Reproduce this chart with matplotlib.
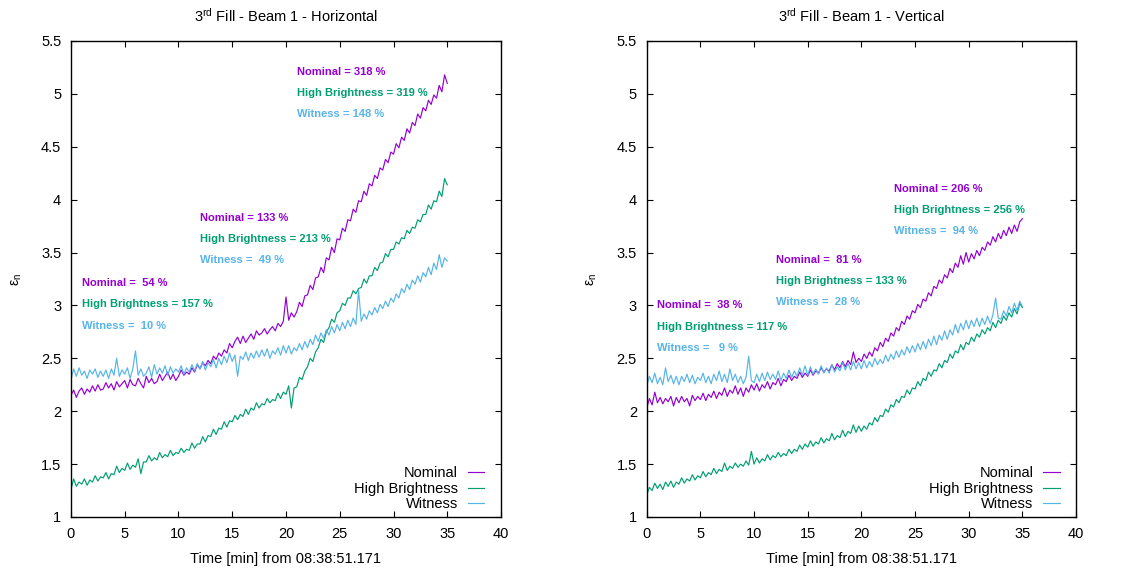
import numpy as np
import matplotlib
matplotlib.use("Agg")
import matplotlib.pyplot as plt

plt.rcParams["font.family"] = ["Liberation Sans", "DejaVu Sans"]
plt.rcParams["mathtext.fontset"] = "custom"
plt.rcParams["mathtext.rm"] = "Liberation Sans"
plt.rcParams["mathtext.it"] = "Liberation Sans:italic"

# sample times [min], one reading every 15 s
T_MIN = np.arange(0, 35.001, 0.25)

# --- Horizontal plane
H_NOM = [
    2.15, 2.20, 2.13, 2.19, 2.22, 2.16, 2.21, 2.18, 2.24, 2.19, 2.25, 2.20,
    2.21, 2.27, 2.22, 2.26, 2.20, 2.28, 2.23, 2.26, 2.29, 2.22, 2.30, 2.25,
    2.24, 2.31, 2.26, 2.22, 2.33, 2.27, 2.31, 2.26, 2.28, 2.35, 2.29, 2.33,
    2.37, 2.30, 2.35, 2.29, 2.33, 2.39, 2.34, 2.37, 2.35, 2.41, 2.37, 2.44,
    2.40, 2.46, 2.43, 2.48, 2.45, 2.52, 2.49, 2.55, 2.52, 2.58, 2.55, 2.64,
    2.60, 2.66, 2.70, 2.64, 2.71, 2.65, 2.69, 2.73, 2.68, 2.76, 2.72, 2.74,
    2.78, 2.73, 2.77, 2.80, 2.76, 2.83, 2.80, 2.85, 3.08, 2.86, 2.93, 2.89,
    2.94, 3.03, 2.99, 3.09, 3.10, 3.19, 3.15, 3.26, 3.27, 3.36, 3.31, 3.45,
    3.43, 3.55, 3.50, 3.63, 3.62, 3.73, 3.70, 3.81, 3.80, 3.91, 3.88, 3.99,
    3.98, 4.08, 4.04, 4.15, 4.13, 4.23, 4.20, 4.30, 4.28, 4.38, 4.35, 4.45,
    4.43, 4.53, 4.49, 4.59, 4.56, 4.67, 4.63, 4.73, 4.70, 4.81, 4.77, 4.87,
    4.84, 4.94, 4.90, 4.99, 4.96, 5.08, 5.02, 5.18, 5.10,
]
H_HB = [
    1.26, 1.36, 1.29, 1.33, 1.31, 1.36, 1.30, 1.35, 1.33, 1.39, 1.34, 1.38,
    1.37, 1.42, 1.36, 1.41, 1.40, 1.48, 1.42, 1.46, 1.44, 1.51, 1.45, 1.49,
    1.47, 1.55, 1.41, 1.52, 1.52, 1.58, 1.53, 1.56, 1.54, 1.61, 1.56, 1.59,
    1.57, 1.63, 1.58, 1.61, 1.60, 1.65, 1.61, 1.64, 1.63, 1.70, 1.65, 1.69,
    1.69, 1.76, 1.71, 1.77, 1.76, 1.83, 1.78, 1.84, 1.83, 1.90, 1.85, 1.91,
    1.90, 1.96, 1.92, 1.97, 1.95, 2.02, 1.97, 2.03, 2.01, 2.08, 2.03, 2.07,
    2.06, 2.12, 2.08, 2.11, 2.10, 2.17, 2.12, 2.18, 2.16, 2.24, 2.03, 2.22,
    2.23, 2.32, 2.30, 2.38, 2.42, 2.50, 2.47, 2.56, 2.60, 2.68, 2.65, 2.75,
    2.79, 2.87, 2.84, 2.93, 2.95, 3.02, 3.00, 3.07, 3.07, 3.14, 3.11, 3.16,
    3.17, 3.25, 3.21, 3.28, 3.28, 3.36, 3.33, 3.40, 3.41, 3.49, 3.46, 3.53,
    3.53, 3.60, 3.58, 3.64, 3.63, 3.71, 3.68, 3.74, 3.73, 3.81, 3.79, 3.86,
    3.86, 3.95, 3.91, 3.99, 3.98, 4.08, 4.03, 4.20, 4.14,
]
H_WIT = [
    2.30, 2.40, 2.33, 2.41, 2.34, 2.38, 2.31, 2.39, 2.35, 2.40, 2.32, 2.38,
    2.33, 2.39, 2.31, 2.40, 2.34, 2.50, 2.33, 2.39, 2.35, 2.41, 2.31, 2.40,
    2.57, 2.34, 2.40, 2.33, 2.36, 2.42, 2.32, 2.44, 2.35, 2.41, 2.36, 2.43,
    2.34, 2.42, 2.36, 2.40, 2.37, 2.43, 2.35, 2.41, 2.37, 2.44, 2.38, 2.45,
    2.40, 2.47, 2.39, 2.46, 2.42, 2.49, 2.41, 2.50, 2.44, 2.52, 2.46, 2.55,
    2.47, 2.53, 2.33, 2.52, 2.49, 2.56, 2.48, 2.55, 2.50, 2.57, 2.51, 2.58,
    2.52, 2.59, 2.50, 2.57, 2.54, 2.60, 2.53, 2.62, 2.55, 2.62, 2.54, 2.60,
    2.57, 2.64, 2.58, 2.66, 2.60, 2.68, 2.63, 2.72, 2.66, 2.74, 2.69, 2.77,
    2.72, 2.80, 2.74, 2.82, 2.76, 2.84, 2.78, 2.86, 2.80, 2.88, 2.82, 3.14,
    2.85, 2.92, 2.87, 2.95, 2.91, 2.98, 2.93, 3.01, 2.97, 3.04, 2.99, 3.07,
    3.03, 3.11, 3.07, 3.16, 3.12, 3.20, 3.15, 3.24, 3.20, 3.28, 3.22, 3.31,
    3.27, 3.36, 3.29, 3.40, 3.34, 3.48, 3.36, 3.45, 3.42,
]

# --- Vertical plane
V_NOM = [
    2.03, 2.12, 2.06, 2.18, 2.08, 2.13, 2.07, 2.12, 2.09, 2.14, 2.05, 2.13,
    2.08, 2.14, 2.09, 2.12, 2.05, 2.15, 2.10, 2.14, 2.11, 2.17, 2.10, 2.16,
    2.13, 2.19, 2.12, 2.18, 2.15, 2.22, 2.14, 2.20, 2.17, 2.24, 2.16, 2.22,
    2.14, 2.22, 2.18, 2.25, 2.20, 2.26, 2.19, 2.25, 2.22, 2.28, 2.21, 2.27,
    2.25, 2.31, 2.24, 2.30, 2.28, 2.34, 2.29, 2.33, 2.31, 2.37, 2.32, 2.36,
    2.33, 2.39, 2.34, 2.38, 2.36, 2.41, 2.37, 2.40, 2.38, 2.44, 2.39, 2.45,
    2.41, 2.47, 2.42, 2.48, 2.44, 2.56, 2.46, 2.50, 2.47, 2.54, 2.50, 2.56,
    2.52, 2.60, 2.57, 2.65, 2.61, 2.69, 2.66, 2.74, 2.71, 2.79, 2.76, 2.85,
    2.82, 2.90, 2.87, 2.95, 2.93, 3.01, 2.98, 3.06, 3.04, 3.12, 3.09, 3.18,
    3.16, 3.24, 3.21, 3.29, 3.26, 3.35, 3.31, 3.40, 3.36, 3.47, 3.39, 3.50,
    3.41, 3.49, 3.44, 3.52, 3.47, 3.55, 3.52, 3.60, 3.57, 3.65, 3.60, 3.68,
    3.63, 3.71, 3.66, 3.74, 3.68, 3.76, 3.70, 3.79, 3.82,
]
V_HB = [
    1.21, 1.28, 1.25, 1.32, 1.27, 1.31, 1.26, 1.33, 1.29, 1.34, 1.28, 1.33,
    1.31, 1.37, 1.32, 1.36, 1.34, 1.40, 1.35, 1.39, 1.37, 1.43, 1.38, 1.42,
    1.40, 1.46, 1.41, 1.45, 1.43, 1.51, 1.44, 1.48, 1.46, 1.51, 1.47, 1.50,
    1.48, 1.53, 1.49, 1.62, 1.50, 1.56, 1.51, 1.55, 1.53, 1.59, 1.54, 1.58,
    1.56, 1.61, 1.57, 1.60, 1.58, 1.64, 1.60, 1.64, 1.62, 1.68, 1.64, 1.69,
    1.66, 1.72, 1.67, 1.71, 1.69, 1.75, 1.70, 1.74, 1.72, 1.79, 1.73, 1.77,
    1.75, 1.82, 1.76, 1.81, 1.79, 1.87, 1.80, 1.86, 1.81, 1.86, 1.83, 1.89,
    1.87, 1.94, 1.90, 1.96, 1.95, 2.02, 1.99, 2.06, 2.04, 2.11, 2.08, 2.14,
    2.13, 2.20, 2.16, 2.22, 2.21, 2.28, 2.24, 2.31, 2.29, 2.37, 2.33, 2.39,
    2.38, 2.45, 2.41, 2.48, 2.46, 2.54, 2.50, 2.57, 2.55, 2.63, 2.58, 2.65,
    2.63, 2.70, 2.66, 2.73, 2.70, 2.77, 2.73, 2.79, 2.76, 2.84, 2.79, 2.86,
    2.83, 2.90, 2.86, 2.93, 2.89, 2.97, 2.92, 3.02, 2.98,
]
V_WIT = [
    2.24, 2.33, 2.27, 2.36, 2.26, 2.32, 2.25, 2.41, 2.28, 2.34, 2.26, 2.33,
    2.25, 2.33, 2.28, 2.35, 2.27, 2.34, 2.26, 2.32, 2.29, 2.36, 2.27, 2.33,
    2.26, 2.35, 2.29, 2.38, 2.28, 2.35, 2.27, 2.40, 2.29, 2.35, 2.27, 2.33,
    2.26, 2.32, 2.52, 2.29, 2.27, 2.35, 2.28, 2.36, 2.29, 2.37, 2.30, 2.35,
    2.30, 2.38, 2.29, 2.36, 2.31, 2.39, 2.32, 2.38, 2.33, 2.41, 2.34, 2.43,
    2.34, 2.42, 2.35, 2.40, 2.35, 2.43, 2.36, 2.41, 2.36, 2.44, 2.37, 2.42,
    2.38, 2.46, 2.39, 2.45, 2.39, 2.47, 2.40, 2.46, 2.40, 2.48, 2.41, 2.47,
    2.42, 2.50, 2.44, 2.49, 2.45, 2.53, 2.47, 2.54, 2.49, 2.57, 2.51, 2.58,
    2.53, 2.61, 2.55, 2.62, 2.56, 2.64, 2.58, 2.66, 2.59, 2.68, 2.62, 2.71,
    2.63, 2.72, 2.67, 2.76, 2.68, 2.77, 2.72, 2.82, 2.74, 2.83, 2.77, 2.86,
    2.78, 2.86, 2.80, 2.88, 2.80, 2.88, 2.82, 2.90, 2.83, 2.91, 3.07, 2.88,
    2.87, 2.95, 2.90, 2.99, 2.93, 3.02, 2.95, 3.04, 2.99,
]

SERIES = ["Nominal", "High Brightness", "Witness"]
COLORS = ["#9400d3", "#009e73", "#56b4e9"]

# emittance growth labels: (x, y of first line, [nominal, HB, witness])
H_NOTES = [(1.0, 3.21, ["54", "157", "10"]),
           (12.0, 3.83, ["133", "213", "49"]),
           (21.0, 5.21, ["318", "319", "148"])]
V_NOTES = [(1.0, 3.00, ["38", "117", "9"]),
           (12.0, 3.43, ["81", "133", "28"]),
           (23.0, 4.10, ["206", "256", "94"])]

TIME_LABEL = "Time [min] from 08:38:51.171"


def draw_panel(ax, data, notes, plane, ylab_x):
    for name, col, y in zip(SERIES, COLORS, data):
        ax.plot(T_MIN, y, color=col, lw=0.85, label=name)

    for x0, y0, vals in notes:
        for i, (name, col, v) in enumerate(zip(SERIES, COLORS, vals)):
            ax.text(x0, y0 - 0.2 * i, f"{name} = {v:>3} %", color=col,
                    fontsize=8, fontweight="bold", ha="left", va="center")

    ax.set_xlim(0, 40)
    ax.set_ylim(1, 5.5)
    ax.set_xticks(np.arange(0, 41, 5))
    ax.set_yticks(np.arange(1, 5.51, 0.5))
    ax.set_yticklabels([f"{v:g}" for v in np.arange(1, 5.51, 0.5)])
    ax.tick_params(direction="in", top=True, right=True, length=4,
                   width=0.8, labelsize=10.5, pad=7)
    for sp in ax.spines.values():
        sp.set_linewidth(1.0)

    ax.set_title(r"3$^{\rm rd}$ Fill - Beam 1 - " + plane, fontsize=10.5,
                 pad=14)
    ax.set_xlabel(TIME_LABEL, fontsize=10.5, labelpad=8)
    ax.set_ylabel(r"ε$_{\rm n}$", fontsize=10)
    ax.yaxis.set_label_coords(ylab_x, 0.5)

    ax.legend(loc="lower right", bbox_to_anchor=(0.975, 0.0),
              markerfirst=False, frameon=False, fontsize=10.5,
              handlelength=1.15, handletextpad=0.65, labelspacing=0.1,
              borderpad=0.2, borderaxespad=0.2)


fig = plt.figure(figsize=(11.41, 5.71), dpi=100)
ax_h = fig.add_axes([0.0622, 0.0946, 0.3769, 0.8336])
ax_v = fig.add_axes([0.5668, 0.0946, 0.3763, 0.8336])

draw_panel(ax_h, [H_NOM, H_HB, H_WIT], H_NOTES, "Horizontal", -0.11)
draw_panel(ax_v, [V_NOM, V_HB, V_WIT], V_NOTES, "Vertical", -0.112)

fig.savefig("out.png", dpi=100, facecolor="white")
